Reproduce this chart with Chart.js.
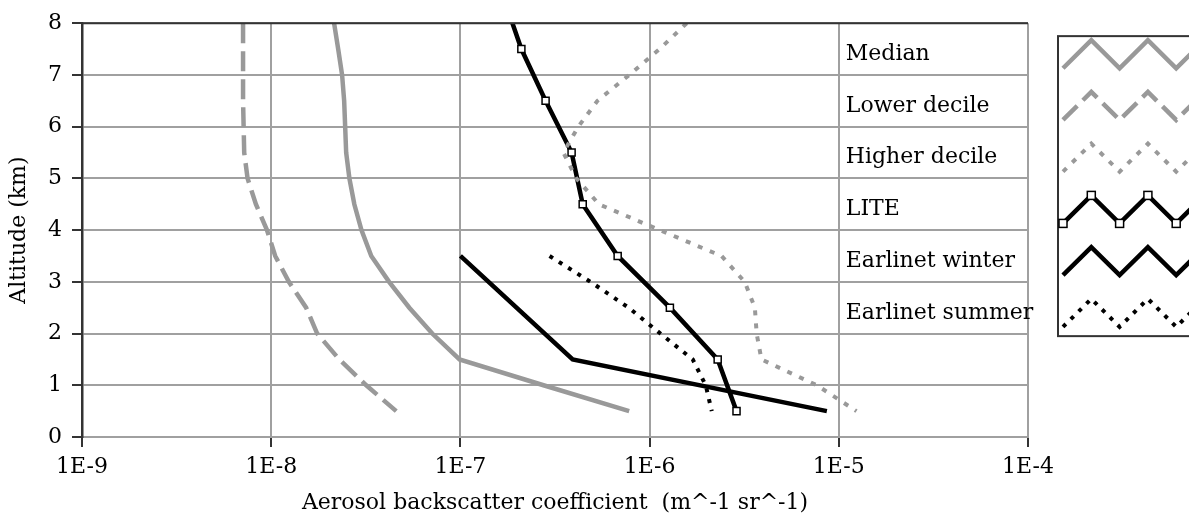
<!DOCTYPE html>
<html>
<head>
<meta charset="utf-8">
<script src="https://cdn.jsdelivr.net/npm/chart.js@4"></script>
<style>
  html, body { margin: 0; padding: 0; background: #fff; }
</style>
</head>
<body>
<canvas id="chart" width="1189" height="527"></canvas>
<script>
// altitudes (km) and backscatter values
const altGrid = [8, 7.5, 7, 6.5, 6, 5.5, 5, 4.5, 4, 3.5, 3, 2.5, 2, 1.5, 1, 0.5];
const median = [2.15e-8, 2.26e-8, 2.37e-8, 2.43e-8, 2.46e-8, 2.49e-8, 2.59e-8, 2.75e-8,
                3.0e-8, 3.38e-8, 4.2e-8, 5.37e-8, 7.1e-8, 9.9e-8, 2.75e-7, 7.8e-7];
const lowerDecile = [7.1e-9, 7.1e-9, 7.1e-9, 7.1e-9, 7.15e-9, 7.2e-9, 7.5e-9, 8.3e-9,
                     9.5e-9, 1.05e-8, 1.24e-8, 1.53e-8, 1.75e-8, 2.29e-8, 3.18e-8, 4.58e-8];
const higherDecile = [1.57e-6, 1.13e-6, 7.8e-7, 5.3e-7, 4.2e-7, 3.5e-7, 4.1e-7, 5.4e-7,
                      1.13e-6, 2.4e-6, 3.18e-6, 3.6e-6, 3.68e-6, 3.9e-6, 7.66e-6, 1.24e-5];

const altLite = [8.5, 7.5, 6.5, 5.5, 4.5, 3.5, 2.5, 1.5, 0.5];
const lite = [1.69e-7, 2.1e-7, 2.82e-7, 3.87e-7, 4.43e-7, 6.78e-7, 1.28e-6, 2.29e-6, 2.88e-6];

const altWinter = [3.5, 1.5, 0.5];
const earlinetWinter = [1.0e-7, 3.92e-7, 8.65e-6];

const altSummer = [3.5, 3, 2.5, 2, 1.5, 1, 0.5];
const earlinetSummer = [2.96e-7, 4.87e-7, 7.75e-7, 1.14e-6, 1.69e-6, 1.98e-6, 2.13e-6];

const xTicks = [1e-9, 1e-8, 1e-7, 1e-6, 1e-5, 1e-4];
const xTickLabels = ['1E-9', '1E-8', '1E-7', '1E-6', '1E-5', '1E-4'];

const seriesNames = ['Median', 'Lower decile', 'Higher decile', 'LITE', 'Earlinet winter', 'Earlinet summer'];

const GRAY = '#999999';
const FONT = "'DejaVu Serif', 'Liberation Serif', serif";

function pts(xs, ys) {
    return xs.map((v, i) => ({ x: v, y: ys[i] }));
}

// legend on the right: names inside the plot, zigzag samples in a box
const sideLegend = {
    id: 'sideLegend',
    afterDraw(chart) {
        const ctx = chart.ctx;
        const a = chart.chartArea;
        const rowH = (a.bottom - a.top) / 8;
        const textX = chart.scales.x.getPixelForValue(1e-5) + 7;
        ctx.save();

        // dark top frame line
        ctx.strokeStyle = '#333';
        ctx.lineWidth = 2;
        ctx.beginPath();
        ctx.moveTo(a.left, a.top);
        ctx.lineTo(a.right, a.top);
        ctx.stroke();

        // box
        const bx = a.right + 30;
        const by = a.top + rowH * 0.25;
        const bb = a.top + rowH * 6.05;
        ctx.strokeStyle = '#333';
        ctx.lineWidth = 2;
        ctx.strokeRect(bx, by, 400, bb - by);

        chart.data.datasets.forEach((ds, i) => {
            const cy = a.top + rowH * (i + 0.6);
            ctx.fillStyle = '#000';
            ctx.font = '22px ' + FONT;
            ctx.textAlign = 'left';
            ctx.textBaseline = 'middle';
            ctx.fillText(ds.label, textX, cy);

            const zig = [];
            for (let k = 0; k < 7; k++) {
                zig.push([bx + 5 + k * 28.3, cy + (k % 2 === 0 ? 14 : -14)]);
            }
            ctx.strokeStyle = ds.borderColor;
            ctx.lineWidth = ds.borderWidth;
            ctx.setLineDash(ds.borderDash || []);
            ctx.lineJoin = 'miter';
            ctx.beginPath();
            zig.forEach((p, k) => k ? ctx.lineTo(p[0], p[1]) : ctx.moveTo(p[0], p[1]));
            ctx.stroke();
            ctx.setLineDash([]);
            if (ds.pointRadius) {
                ctx.fillStyle = '#fff';
                ctx.strokeStyle = '#000';
                ctx.lineWidth = 1.5;
                zig.forEach(p => {
                    ctx.fillRect(p[0] - 4, p[1] - 4, 8, 8);
                    ctx.strokeRect(p[0] - 4, p[1] - 4, 8, 8);
                });
            }
        });
        ctx.restore();
    }
};

const ctx = document.getElementById('chart').getContext('2d');
new Chart(ctx, {
    type: 'scatter',
    data: {
        datasets: [
            {
                label: seriesNames[0],
                data: pts(median, altGrid),
                showLine: true, borderColor: GRAY, borderWidth: 4.5,
                pointRadius: 0
            },
            {
                label: seriesNames[1],
                data: pts(lowerDecile, altGrid),
                showLine: true, borderColor: GRAY, borderWidth: 4.5,
                borderDash: [20, 8], pointRadius: 0
            },
            {
                label: seriesNames[2],
                data: pts(higherDecile, altGrid),
                showLine: true, borderColor: GRAY, borderWidth: 4,
                borderDash: [5, 8], pointRadius: 0
            },
            {
                label: seriesNames[3],
                data: pts(lite, altLite),
                showLine: true, borderColor: '#000', borderWidth: 4.5,
                pointRadius: 5, pointStyle: 'rect',
                pointBackgroundColor: '#fff', pointBorderColor: '#000', pointBorderWidth: 1.5
            },
            {
                label: seriesNames[4],
                data: pts(earlinetWinter, altWinter),
                showLine: true, borderColor: '#000', borderWidth: 4.5,
                pointRadius: 0
            },
            {
                label: seriesNames[5],
                data: pts(earlinetSummer, altSummer),
                showLine: true, borderColor: '#000', borderWidth: 4,
                borderDash: [4, 7], pointRadius: 0
            }
        ]
    },
    options: {
        responsive: false,
        animation: false,
        layout: { padding: { top: 20, right: 161, left: 0, bottom: 0 } },
        font: { family: FONT, size: 22 },
        plugins: {
            legend: { display: false },
            tooltip: { enabled: false }
        },
        scales: {
            x: {
                type: 'logarithmic',
                min: 1e-9,
                max: 1e-4,
                afterBuildTicks: scale => {
                    scale.ticks = xTicks.map(v => ({ value: v }));
                },
                afterFit: scale => { scale.height = 90; },
                ticks: {
                    color: '#000',
                    font: { family: FONT, size: 22 },
                    padding: 7,
                    maxRotation: 0,
                    autoSkip: false,
                    callback: (v) => xTickLabels[xTicks.indexOf(v)]
                },
                grid: {
                    color: '#a0a0a0', lineWidth: 2,
                    tickColor: '#333', tickWidth: 2, tickLength: 10
                },
                border: { color: '#a0a0a0', width: 2 },
                title: {
                    display: true,
                    text: 'Aerosol backscatter coefficient  (m^-1 sr^-1)',
                    color: '#000',
                    font: { family: FONT, size: 22 },
                    padding: { top: 0, bottom: 11 }
                }
            },
            y: {
                min: 0,
                max: 8,
                afterFit: scale => { scale.width = 82; },
                ticks: {
                    stepSize: 1,
                    color: '#000',
                    font: { family: FONT, size: 22 },
                    padding: 10
                },
                grid: {
                    color: '#a0a0a0', lineWidth: 2,
                    tickColor: '#333', tickWidth: 2, tickLength: 10
                },
                border: { color: '#333', width: 2.5 },
                title: {
                    display: true,
                    text: 'Altitude (km)',
                    color: '#000',
                    font: { family: FONT, size: 22 },
                    padding: { top: 6, bottom: 0 }
                }
            }
        }
    },
    plugins: [sideLegend]
});
</script>
</body>
</html>
